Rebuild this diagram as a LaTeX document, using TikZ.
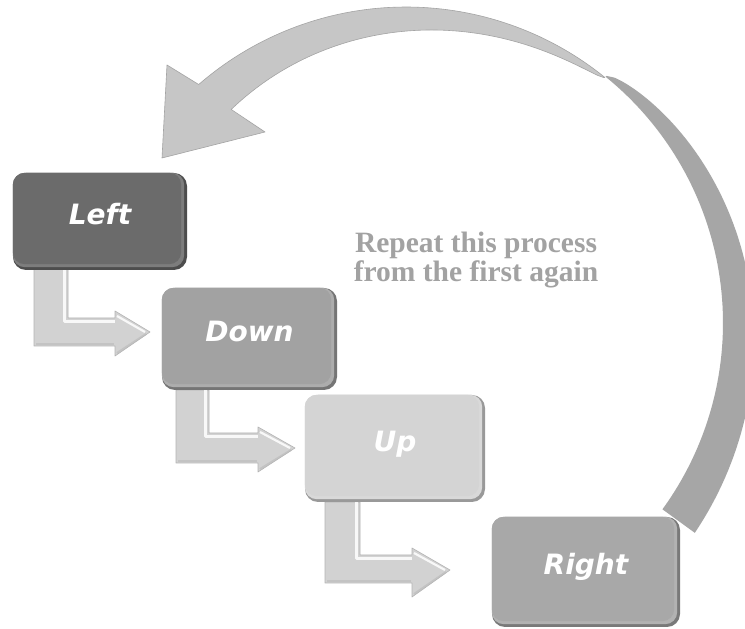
\documentclass[tikz,border=0pt]{standalone}
\usepackage{fontspec}
\setmainfont{Liberation Serif}
\newfontfamily\boxfont{DejaVu Sans}
\usetikzlibrary{calc}
\definecolor{cLeft}{HTML}{6B6B6B}
\definecolor{cDown}{HTML}{A2A2A2}
\definecolor{cUp}{HTML}{D4D4D4}
\definecolor{cRight}{HTML}{A8A8A8}
\definecolor{bandL}{HTML}{C6C6C6}
\definecolor{bandLedge}{HTML}{A4A4A4}
\definecolor{bandD}{HTML}{A6A6A6}
\definecolor{elbowfill}{HTML}{D2D2D2}
\definecolor{elbowedge}{HTML}{B4B4B4}
\definecolor{noteC}{HTML}{A2A2A2}
\tikzset{
  boxbase/.style={rounded corners=13pt, inner sep=0pt, draw=none},
  lbl/.style={text=white, font=\boxfont\bfseries\itshape\fontsize{28}{28}\selectfont, inner sep=0pt, anchor=base},
  elbow/.style={fill=elbowfill, draw=elbowedge, line width=0.6pt, line join=round},
  elbowhi/.style={white, opacity=0.85, line width=2.2pt, line join=round},
  elbowlo/.style={gray!55, opacity=0.6, line width=2pt, line join=round},
  bandlight/.style={fill=bandL, draw=bandLedge, line width=0.6pt, line join=round},
  banddark/.style={fill=bandD},
  note/.style={text=noteC, font=\bfseries\fontsize{29.5}{29.5}\selectfont, inner sep=0pt, anchor=base},
}
\newcommand\stepbox[7]{%
  \node[boxbase, fill=#6!72!black, minimum width=#4pt, minimum height=#5pt] (#1) at (#2,#3) {};
  \fill[#6!88!white, rounded corners=12pt] ([yshift=3pt]#1.south west) rectangle ([xshift=-3pt]#1.north east);
  \fill[#6, rounded corners=12pt] ([yshift=6pt]#1.south west) rectangle ([xshift=-6pt]#1.north east);
  \node[lbl] (#1-t) at ([yshift=-3pt]#1.center) {#7};
}
\begin{document}
\begin{tikzpicture}[x=1pt,y=1pt]
\useasboundingbox (0,0) rectangle (745,629);
\clip (0,0) rectangle (745,629);
\fill[white] (0,0) rectangle (745,629);

% big curved return arrow: dark part (right side)
\fill[banddark] plot[domain=51:-36, samples=70, variable=\t] ({406+317*cos(\t)},{306+317*sin(\t)})
  -- plot[domain=-36:50.9, samples=70, variable=\t] ({406+(317+40*sqrt((51-\t)/87))*cos(\t)},{306+(317+40*sqrt((51-\t)/87))*sin(\t)})
  -- cycle;
% light part with arrow head
\filldraw[bandlight] (167,564) -- plot[domain=131:51, samples=70, variable=\t] ({406+316*cos(\t)},{306+316*sin(\t)})
  -- plot[domain=51.1:129.3, samples=70, variable=\t] ({406+(316-40*(0.5*(\t-51)/78.3+0.5*sqrt((\t-51)/78.3)))*cos(\t)},{306+(316-40*(0.5*(\t-51)/78.3+0.5*sqrt((\t-51)/78.3)))*sin(\t)})
  -- (265,497) -- (162,471) -- cycle;

% elbow arrows
\filldraw[elbow] (34,361) -- (68,361) -- (68,311) -- (115,311) -- (115,318) -- (150,297) -- (115,273) -- (115,283) -- (34,283) -- cycle;
\draw[elbowhi] (64.5,361) -- (64.5,307.5) -- (115,307.5);
\draw[elbowhi] (117,313) -- (145,297);
\draw[elbowlo] (36,285) -- (114,285);
\draw[elbowlo] (117,276) -- (146,295);

\filldraw[elbow] (176,239) -- (209,239) -- (209,196) -- (258,196) -- (258,202) -- (295,181) -- (258,157) -- (258,166) -- (176,166) -- cycle;
\draw[elbowhi] (205.5,239) -- (205.5,192.5) -- (258,192.5);
\draw[elbowhi] (260,197) -- (290,181);
\draw[elbowlo] (178,168) -- (257,168);
\draw[elbowlo] (260,160) -- (291,179);

\filldraw[elbow] (325,127) -- (360,127) -- (360,74) -- (412,74) -- (412,81) -- (450,59) -- (412,32) -- (412,46) -- (325,46) -- cycle;
\draw[elbowhi] (356.5,127) -- (356.5,70.5) -- (412,70.5);
\draw[elbowhi] (414,76) -- (445,59);
\draw[elbowlo] (327,48) -- (411,48);
\draw[elbowlo] (414,35) -- (446,57);

% step boxes
\stepbox{left}{100}{407.5}{174}{97}{cLeft}{Left}
\stepbox{down}{249.5}{290}{175}{102}{cDown}{Down}
\stepbox{up}{395}{180.5}{180}{107}{cUp}{Up}
\stepbox{right}{586}{57}{188}{110}{cRight}{Right}

% note
\node[note] (rep1) at (476,376) {Repeat this process};
\node[note] (rep2) at (476,347) {from the first again};
\end{tikzpicture}
\end{document}
